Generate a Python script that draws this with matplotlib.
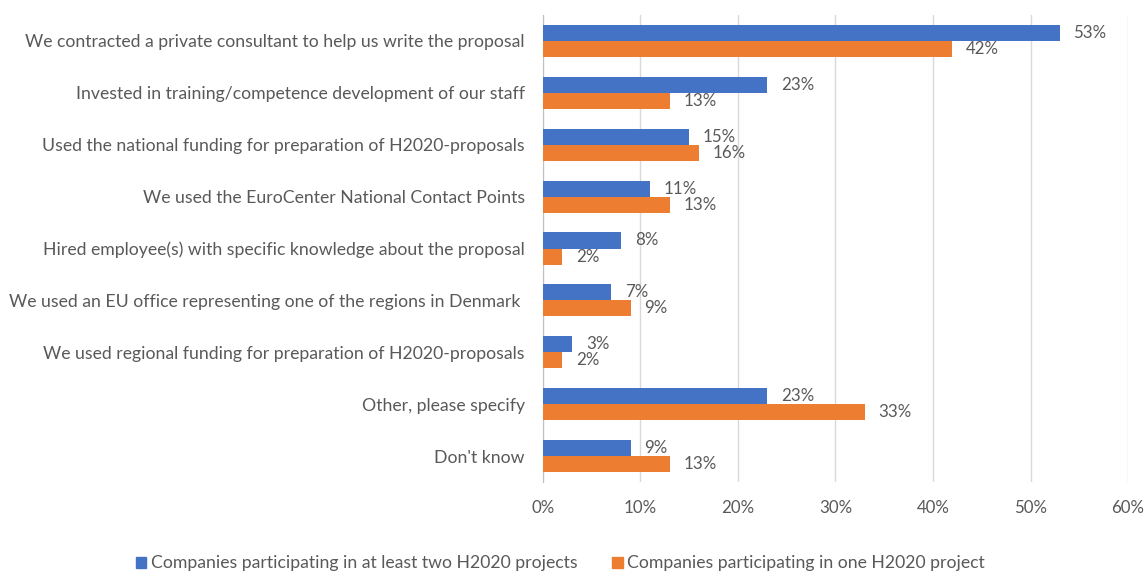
import matplotlib
matplotlib.use("Agg")
import matplotlib.pyplot as plt
from matplotlib.patches import Patch

plt.rcParams['font.family'] = ['Lato', 'DejaVu Sans']

categories = [
    "We contracted a private consultant to help us write the proposal",
    "Invested in training/competence development of our staff",
    "Used the national funding for preparation of H2020-proposals",
    "We used the EuroCenter National Contact Points",
    "Hired employee(s) with specific knowledge about the proposal",
    "We used an EU office representing one of the regions in Denmark ",
    "We used regional funding for preparation of H2020-proposals",
    "Other, please specify",
    "Don't know",
]
two_plus = [53, 23, 15, 11, 8, 7, 3, 23, 9]
one_project = [42, 13, 16, 13, 2, 9, 2, 33, 13]
series_names = ["Companies participating in at least two H2020 projects",
                "Companies participating in one H2020 project"]
xticks = [0, 10, 20, 30, 40, 50, 60]

blue = "#4472C4"
orange = "#ED7D31"
text_col = "#595959"

fig = plt.figure(figsize=(11.46, 5.72), dpi=100)
ax = fig.add_axes([0.4738, 0.1573, 0.5105, 0.8165])

h = 0.31
y = list(range(len(categories)))
yb = [v - h / 2 for v in y]
yo = [v + h / 2 for v in y]
ax.barh(yb, two_plus, height=h, color=blue, zorder=3)
ax.barh(yo, one_project, height=h, color=orange, zorder=3)

for yy, v in zip(yb, two_plus):
    ax.text(v + 1.4, yy, f"{v}%", va="center", ha="left", fontsize=12.2, color=text_col)
for yy, v in zip(yo, one_project):
    ax.text(v + 1.4, yy, f"{v}%", va="center", ha="left", fontsize=12.2, color=text_col)

ax.set_xlim(0, 60)
ax.set_ylim(len(categories) - 0.5, -0.5)
ax.set_xticks(xticks)
ax.set_xticklabels([f"{t}%" for t in xticks], fontsize=12.2)
ax.set_yticks(y)
ax.set_yticklabels(categories, fontsize=12.7)
ax.tick_params(axis="both", length=0, colors=text_col)
ax.tick_params(axis="y", pad=13)
ax.tick_params(axis="x", pad=13)
ax.grid(axis="x", color="#d9d9d9", linewidth=1, zorder=0)
for s in ["top", "right", "bottom"]:
    ax.spines[s].set_visible(False)
ax.spines["left"].set_color("#bfbfbf")

handles = [Patch(color=blue), Patch(color=orange)]
fig.legend(handles, series_names, loc="center", bbox_to_anchor=(0.489, 0.015),
           ncol=2, frameon=False, fontsize=12.7, labelcolor=text_col,
           handlelength=0.6, handleheight=0.6, handletextpad=0.25, columnspacing=2.0)

fig.savefig("out.png", dpi=100)
